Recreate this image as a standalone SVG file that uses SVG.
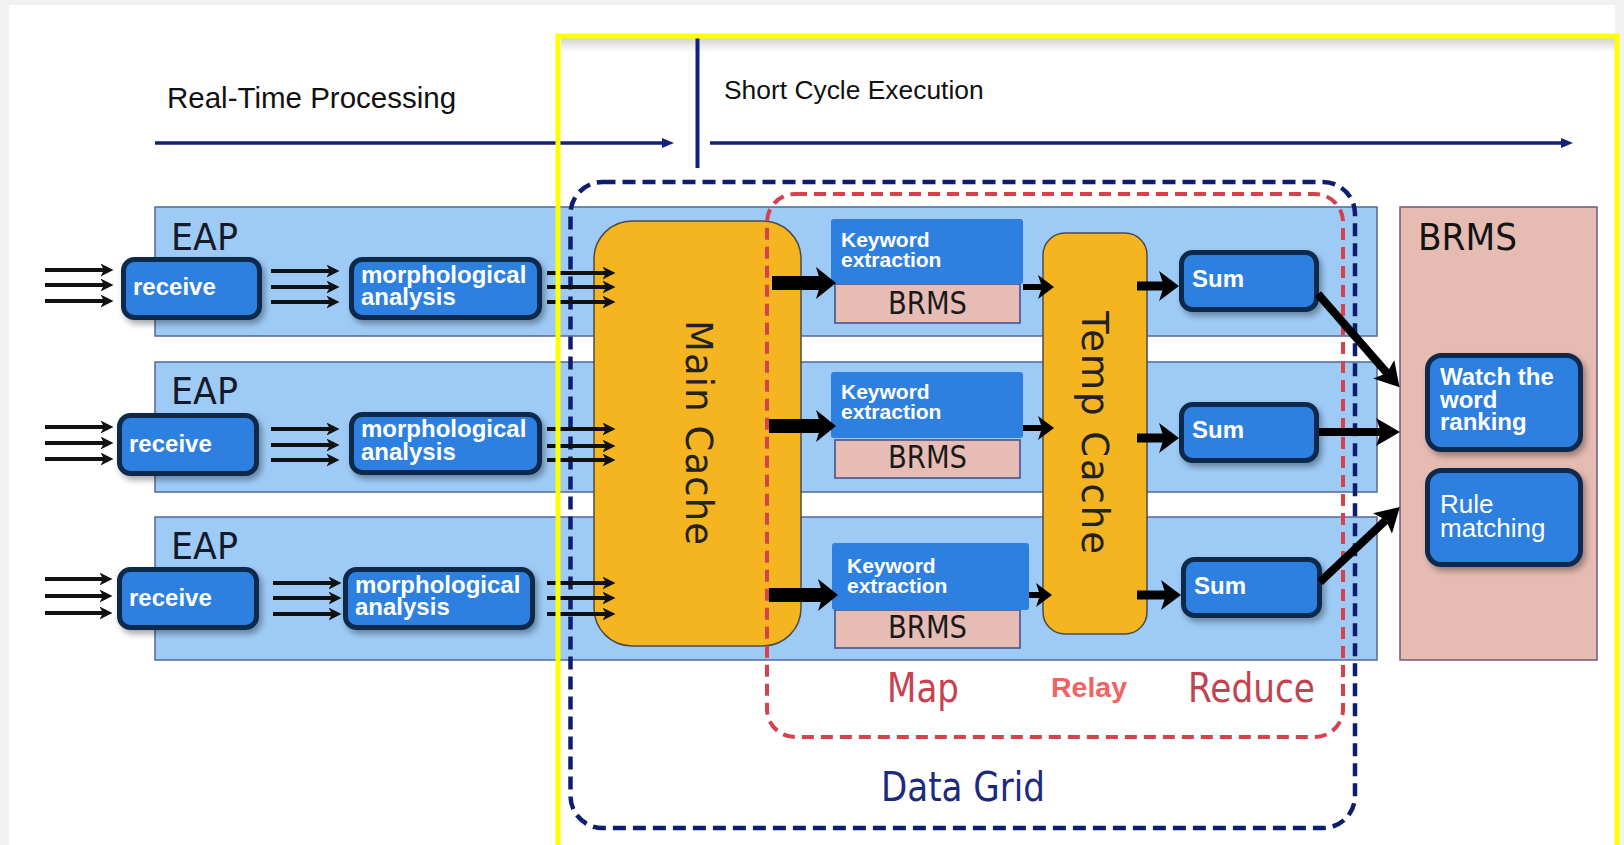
<svg xmlns="http://www.w3.org/2000/svg" width="1624" height="845" viewBox="0 0 1624 845">
<defs>
<style>
.band{fill:#9ecbf6;stroke:#52679a;stroke-width:1.5}
.box{fill:#2e80e0;stroke:#0e2a4d;stroke-width:5;filter:url(#sh)}
.kw{fill:#2e80e0}
.pk{fill:#e6bcb4;stroke:#3c4c8c;stroke-width:1.5}
.cache{fill:#f5b521;stroke:#4b4b4b;stroke-width:1.5}
.wb{font-family:"Liberation Sans",Arial,sans-serif;font-weight:bold;fill:#fff}
.wr{font-family:"Liberation Sans",Arial,sans-serif;fill:#fff}
.vd{font-family:"DejaVu Sans",Verdana,sans-serif}
.hd{font-family:"Liberation Sans",Arial,sans-serif;fill:#111}
.a3{stroke:#111;stroke-width:4;fill:none;marker-end:url(#mS)}
.an{stroke:#14217a;stroke-width:3.5;fill:none;marker-end:url(#mN)}
.ab{stroke:#000;stroke-width:14;fill:none;marker-end:url(#mB)}
.am{stroke:#000;stroke-width:6;fill:none;marker-end:url(#mM)}
.at{stroke:#000;stroke-width:9;fill:none;marker-end:url(#mT)}
.ad{stroke:#000;stroke-width:8;fill:none;marker-end:url(#mD)}
</style>
<filter id="sh" x="-20%" y="-20%" width="150%" height="170%">
<feDropShadow dx="3" dy="4" stdDeviation="3" flood-color="#000" flood-opacity="0.35"/>
</filter>
<linearGradient id="gTop" x1="0" y1="0" x2="0" y2="1">
<stop offset="0" stop-color="#000" stop-opacity="0.18"/>
<stop offset="1" stop-color="#000" stop-opacity="0"/>
</linearGradient>
<marker id="mS" viewBox="0 0 13 13" refX="3.5" refY="6.5" markerWidth="13" markerHeight="13" markerUnits="userSpaceOnUse" orient="auto"><path d="M0,0 L13,6.5 L0,13 L3.5,6.5 z" fill="#111"/></marker>
<marker id="mN" viewBox="0 0 12 12" refX="2" refY="6" markerWidth="12" markerHeight="12" markerUnits="userSpaceOnUse" orient="auto"><path d="M0,1 L12,6 L0,11 z" fill="#14217a"/></marker>
<marker id="mB" viewBox="0 0 20 32" refX="5" refY="16" markerWidth="20" markerHeight="32" markerUnits="userSpaceOnUse" orient="auto"><path d="M0,0 L20,16 L0,32 L5,16 z" fill="#000"/></marker>
<marker id="mM" viewBox="0 0 16 24" refX="4" refY="12" markerWidth="16" markerHeight="24" markerUnits="userSpaceOnUse" orient="auto"><path d="M0,0 L16,12 L0,24 L4,12 z" fill="#000"/></marker>
<marker id="mT" viewBox="0 0 20 30" refX="5" refY="15" markerWidth="20" markerHeight="30" markerUnits="userSpaceOnUse" orient="auto"><path d="M0,0 L20,15 L0,30 L5,15 z" fill="#000"/></marker>
<marker id="mD" viewBox="0 0 24 28" refX="5" refY="14" markerWidth="24" markerHeight="28" markerUnits="userSpaceOnUse" orient="auto"><path d="M0,0 L24,14 L0,28 L5,14 z" fill="#000"/></marker>
</defs>

<rect x="0" y="0" width="1624" height="845" fill="#f1f1f1"/>
<rect x="9" y="5" width="1606" height="840" fill="#fff"/>
<rect x="561" y="38" width="1054" height="14" fill="url(#gTop)"/>

<g id="header">
<text class="hd" x="167" y="108" font-size="29.5">Real-Time Processing</text>
<text class="hd" x="724" y="99" font-size="26.4">Short Cycle Execution</text>
<line x1="697.5" y1="38" x2="697.5" y2="168" stroke="#14217a" stroke-width="4"/>
</g>

<g id="bands">
<rect class="band" x="155" y="207" width="1222" height="129"/>
<rect class="band" x="155" y="362" width="1222" height="130"/>
<rect class="band" x="155" y="517" width="1222" height="143"/>
<text class="vd" x="171" y="250" font-size="37" fill="#141a2a" textLength="67" lengthAdjust="spacingAndGlyphs">EAP</text>
<text class="vd" x="171" y="404" font-size="37" fill="#141a2a" textLength="67" lengthAdjust="spacingAndGlyphs">EAP</text>
<text class="vd" x="171" y="559" font-size="37" fill="#141a2a" textLength="67" lengthAdjust="spacingAndGlyphs">EAP</text>
</g>

<g id="main-cache">
<rect class="cache" x="594" y="221" width="207" height="425" rx="38"/>
<text class="vd" font-size="37" fill="#222" transform="translate(686,320) rotate(90)" textLength="225">Main Cache</text>
</g>

<g id="temp-cache">
<rect class="cache" x="1043" y="233" width="104" height="401" rx="22"/>
<text class="vd" font-size="37" fill="#222" transform="translate(1082,311) rotate(90)" textLength="243">Temp Cache</text>
</g>

<g id="receive1"><rect class="box" x="123.5" y="259.5" width="136" height="58" rx="11"/><text class="wb" x="133" y="295" font-size="24">receive</text></g>
<g id="receive2"><rect class="box" x="119.5" y="415.5" width="137" height="58" rx="11"/><text class="wb" x="129" y="452" font-size="24">receive</text></g>
<g id="receive3"><rect class="box" x="119.5" y="569.5" width="137" height="58" rx="11"/><text class="wb" x="129" y="606" font-size="24">receive</text></g>

<g id="morph1"><rect class="box" x="351.5" y="259.5" width="188" height="58" rx="11"/><text class="wb" x="361" y="283" font-size="24">morphological</text><text class="wb" x="361" y="305" font-size="24">analysis</text></g>
<g id="morph2"><rect class="box" x="351.5" y="414.5" width="188" height="58" rx="11"/><text class="wb" x="361" y="437" font-size="24">morphological</text><text class="wb" x="361" y="460" font-size="24">analysis</text></g>
<g id="morph3"><rect class="box" x="345.5" y="569.5" width="187" height="58" rx="11"/><text class="wb" x="355" y="593" font-size="24">morphological</text><text class="wb" x="355" y="615" font-size="24">analysis</text></g>

<g id="keyword1"><rect class="pk" x="835" y="284" width="185" height="39"/><rect class="kw" x="831" y="219" width="192" height="65" rx="3"/><text class="wb" x="841" y="247" font-size="21">Keyword</text><text class="wb" x="841" y="267" font-size="21">extraction</text><text class="vd" x="888" y="314" font-size="32" fill="#1a1a1a" textLength="79" lengthAdjust="spacingAndGlyphs">BRMS</text></g>
<g id="keyword2"><rect class="pk" x="835" y="440" width="185" height="38"/><rect class="kw" x="831" y="372" width="192" height="66" rx="3"/><text class="wb" x="841" y="399" font-size="21">Keyword</text><text class="wb" x="841" y="419" font-size="21">extraction</text><text class="vd" x="888" y="468" font-size="32" fill="#1a1a1a" textLength="79" lengthAdjust="spacingAndGlyphs">BRMS</text></g>
<g id="keyword3"><rect class="pk" x="835" y="610" width="185" height="38"/><rect class="kw" x="832" y="543" width="197" height="67" rx="3"/><text class="wb" x="847" y="573" font-size="21">Keyword</text><text class="wb" x="847" y="593" font-size="21">extraction</text><text class="vd" x="888" y="638" font-size="32" fill="#1a1a1a" textLength="79" lengthAdjust="spacingAndGlyphs">BRMS</text></g>

<g id="sum1"><rect class="box" x="1181.5" y="252.5" width="135" height="57" rx="11"/><text class="wb" x="1192" y="287" font-size="24">Sum</text></g>
<g id="sum2"><rect class="box" x="1181.5" y="404.5" width="135" height="56" rx="11"/><text class="wb" x="1192" y="438" font-size="24">Sum</text></g>
<g id="sum3"><rect class="box" x="1183.5" y="559.5" width="136" height="56" rx="11"/><text class="wb" x="1194" y="594" font-size="24">Sum</text></g>

<g id="brms">
<rect x="1400" y="207" width="197" height="453" fill="#e6bcb2" stroke="#6d5a7a" stroke-width="1.5"/>
<text class="vd" x="1418" y="250" font-size="38" fill="#141414" textLength="99" lengthAdjust="spacingAndGlyphs">BRMS</text>
</g>
<g id="watch"><rect class="box" x="1427.5" y="355.5" width="153" height="94" rx="14"/><text class="wb" x="1440" y="385" font-size="24">Watch the</text><text class="wb" x="1440" y="408" font-size="24">word</text><text class="wb" x="1440" y="430" font-size="24">ranking</text></g>
<g id="rule"><rect class="box" x="1427.5" y="470.5" width="153" height="94" rx="14"/><text class="wr" x="1440" y="513" font-size="26">Rule</text><text class="wr" x="1440" y="537" font-size="26">matching</text></g>

<g id="data-grid">
<rect x="570.5" y="182" width="784.5" height="646" rx="32" fill="none" stroke="#0e1e6e" stroke-width="4.5" stroke-dasharray="13 7"/>
<text class="vd" x="881" y="801" font-size="40" fill="#1b2a7e" textLength="164" lengthAdjust="spacingAndGlyphs">Data Grid</text>
</g>
<g id="map-reduce">
<rect x="767" y="194" width="576" height="543" rx="28" fill="none" stroke="#d8404c" stroke-width="4" stroke-dasharray="12 7"/>
<text class="vd" x="887" y="702" font-size="40" fill="#c9404e" textLength="72" lengthAdjust="spacingAndGlyphs">Map</text>
<text x="1051" y="697" font-family="Liberation Sans, Arial, sans-serif" font-weight="bold" font-size="27" fill="#f26262" textLength="76" lengthAdjust="spacingAndGlyphs">Relay</text>
<text class="vd" x="1188" y="702" font-size="40" fill="#c2434f" textLength="127" lengthAdjust="spacingAndGlyphs">Reduce</text>
</g>

<g id="connectors">
<line class="an" x1="155" y1="143" x2="664" y2="143"/>
<line class="an" x1="710" y1="143" x2="1563" y2="143"/>

<line class="a3" x1="45" y1="270" x2="104" y2="270"/>
<line class="a3" x1="45" y1="285" x2="104" y2="285"/>
<line class="a3" x1="45" y1="301" x2="104" y2="301"/>
<line class="a3" x1="45" y1="427" x2="104" y2="427"/>
<line class="a3" x1="45" y1="443" x2="104" y2="443"/>
<line class="a3" x1="45" y1="459" x2="104" y2="459"/>
<line class="a3" x1="45" y1="579" x2="103" y2="579"/>
<line class="a3" x1="45" y1="596" x2="103" y2="596"/>
<line class="a3" x1="45" y1="613" x2="103" y2="613"/>

<line class="a3" x1="271" y1="271" x2="330" y2="271"/>
<line class="a3" x1="271" y1="287" x2="330" y2="287"/>
<line class="a3" x1="271" y1="302" x2="330" y2="302"/>
<line class="a3" x1="271" y1="429" x2="330" y2="429"/>
<line class="a3" x1="271" y1="445" x2="330" y2="445"/>
<line class="a3" x1="271" y1="460" x2="330" y2="460"/>
<line class="a3" x1="273" y1="583" x2="332" y2="583"/>
<line class="a3" x1="273" y1="598" x2="332" y2="598"/>
<line class="a3" x1="273" y1="614" x2="332" y2="614"/>

<line class="a3" x1="547" y1="273" x2="606" y2="273"/>
<line class="a3" x1="547" y1="287" x2="606" y2="287"/>
<line class="a3" x1="547" y1="302" x2="606" y2="302"/>
<line class="a3" x1="547" y1="429" x2="606" y2="429"/>
<line class="a3" x1="547" y1="446" x2="606" y2="446"/>
<line class="a3" x1="547" y1="460" x2="606" y2="460"/>
<line class="a3" x1="547" y1="583" x2="606" y2="583"/>
<line class="a3" x1="547" y1="598" x2="606" y2="598"/>
<line class="a3" x1="547" y1="614" x2="606" y2="614"/>

<line class="ab" x1="772" y1="283" x2="821" y2="283"/>
<line class="ab" x1="769" y1="426" x2="821" y2="426"/>
<line class="ab" x1="769" y1="595" x2="823" y2="595"/>

<line class="am" x1="1023" y1="287" x2="1042" y2="287"/>
<line class="am" x1="1023" y1="428" x2="1042" y2="428"/>
<line class="am" x1="1029" y1="595" x2="1040" y2="595"/>

<line class="at" x1="1137" y1="286" x2="1164" y2="286"/>
<line class="at" x1="1137" y1="438" x2="1164" y2="438"/>
<line class="at" x1="1137" y1="595" x2="1166" y2="595"/>

<line class="ad" x1="1318" y1="294" x2="1387" y2="373"/>
<line class="ad" x1="1319" y1="432" x2="1381" y2="432"/>
<line class="ad" x1="1320" y1="582" x2="1386" y2="520"/>
</g>

<rect id="short-cycle-frame" x="558" y="36" width="1059" height="830" fill="none" stroke="#ffff00" stroke-width="5"/>
</svg>
